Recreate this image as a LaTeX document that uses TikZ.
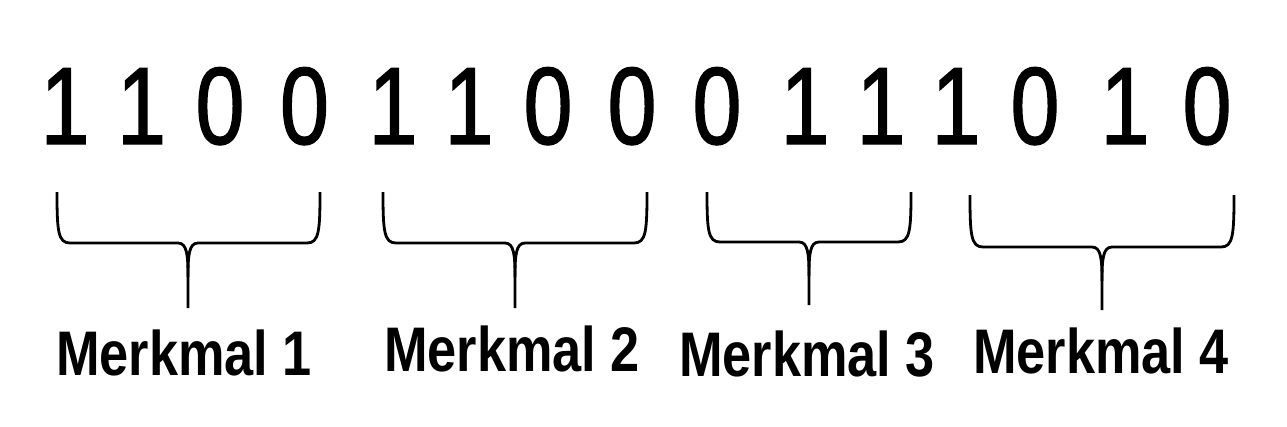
\documentclass[tikz,border=0pt]{standalone}
\usepackage{fontspec}
\setmainfont{Liberation Sans}
\newfontfamily\bitfont[FakeStretch=0.8, FakeBold=1.2]{Liberation Sans}
\newfontfamily\labelfont[FakeStretch=0.83]{Liberation Sans}
\usepackage{tikz}
\usetikzlibrary{positioning}

\begin{document}
\begin{tikzpicture}[x=1pt, y=-1pt,
    bit/.style={anchor=base, inner sep=0pt, font=\bitfont\fontsize{110}{110}\selectfont},
    merkmal/.style={anchor=base, inner sep=0pt, font=\labelfont\bfseries\fontsize{63}{63}\selectfont},
    klammer/.style={line width=2.8pt, line join=round}]
  \useasboundingbox (0,0) rectangle (1287,426);
  % Bitfolge
  \foreach \i/\x/\b in {1/65/1, 2/141.5/1, 3/220/0, 4/304.5/0, 5/393/1,
      6/469/1, 7/548/0, 8/632/0, 9/717/0, 10/805/1, 11/881/1, 12/956/1,
      13/1035/0, 14/1125/1, 15/1207/0} {
    \node[bit] (d\i) at (\x, 144) {\b};
  }
  % Klammern: links/rechts/Spitze/oben/Mitte/unten
  \foreach \i/\l/\r/\t/\a/\m/\c in {1/57/320/188/192/243/308,
      2/383/647/515/192/243/308, 3/707/911/809/192/242/305,
      4/970/1234/1102/195/247/310} {
    \coordinate (tip\i) at (\t, \c);
    \draw[klammer] (\l,\a) .. controls (\l,\m-12) and (\l+1,\m) .. (\l+13,\m)
      -- (\t-10,\m) .. controls (\t-1,\m) and (\t,\m+12) .. (\t,\m+34) -- (tip\i);
    \draw[klammer] (\r,\a) .. controls (\r,\m-12) and (\r-1,\m) .. (\r-13,\m)
      -- (\t+10,\m) .. controls (\t+1,\m) and (\t,\m+12) .. (\t,\m+34);
  }
  % Merkmale
  \node[merkmal] (m1) at (184, 375) {Merkmal 1};
  \node[merkmal] (m2) at (512, 371) {Merkmal 2};
  \node[merkmal] (m3) at (807, 376) {Merkmal 3};
  \node[merkmal] (m4) at (1101, 373) {Merkmal 4};
\end{tikzpicture}
\end{document}
